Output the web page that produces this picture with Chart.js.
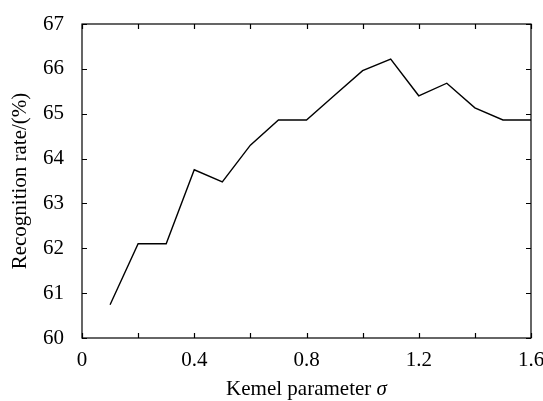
<!DOCTYPE html>
<html>
<head>
<meta charset="utf-8">
<script src="https://cdn.jsdelivr.net/npm/chart.js@4/dist/chart.umd.min.js"></script>
<style>
  html, body { margin: 0; padding: 0; background: #fff; }
  #wrap { width: 543px; height: 401px; }
</style>
</head>
<body>
<div id="wrap"><canvas id="c" width="543" height="401"></canvas></div>
<script>
// kernel parameter values and recognition rate
const sigma = [0.1, 0.2, 0.3, 0.4, 0.5, 0.6, 0.7, 0.8, 0.9, 1.0, 1.1, 1.2, 1.3, 1.4, 1.5, 1.6];
const rate = [60.74, 62.10, 62.10, 63.75, 63.48, 64.30, 64.86, 64.86, 65.41, 65.96, 66.22, 65.40, 65.68, 65.13, 64.86, 64.86];
const xLabels = ['0', '0.4', '0.8', '1.2', '1.6'];
const xTitle = 'Kemel parameter ';
const xTitleSym = 'σ';

const FONT = "'Liberation Serif', 'Times New Roman', serif";

// frame, inward tick marks on all four sides, x title with italic sigma
const framePlugin = {
  id: 'frame',
  afterDraw(chart) {
    const { ctx, chartArea: a, scales } = chart;
    ctx.save();
    ctx.strokeStyle = '#000';
    ctx.lineWidth = 1.2;
    ctx.strokeRect(a.left, a.top, a.right - a.left, a.bottom - a.top);
    const len = 5;
    ctx.beginPath();
    scales.x.ticks.forEach(t => {
      const px = Math.round(scales.x.getPixelForValue(t.value)) + 0.5;
      ctx.moveTo(px, a.bottom); ctx.lineTo(px, a.bottom - len);
      ctx.moveTo(px, a.top); ctx.lineTo(px, a.top + len);
    });
    scales.y.ticks.forEach(t => {
      const py = Math.round(scales.y.getPixelForValue(t.value)) + 0.5;
      ctx.moveTo(a.left, py); ctx.lineTo(a.left + len, py);
      ctx.moveTo(a.right, py); ctx.lineTo(a.right - len, py);
    });
    ctx.stroke();

    // x axis title
    ctx.fillStyle = '#000';
    ctx.textBaseline = 'alphabetic';
    const normal = '21px ' + FONT;
    const italic = 'italic 21px ' + FONT;
    ctx.font = normal;
    const w1 = ctx.measureText(xTitle).width;
    ctx.font = italic;
    const w2 = ctx.measureText(xTitleSym).width;
    const x0 = (a.left + a.right) / 2 - (w1 + w2) / 2;
    const yb = 395;
    ctx.font = normal;
    ctx.textAlign = 'left';
    ctx.fillText(xTitle, x0, yb);
    ctx.font = italic;
    ctx.fillText(xTitleSym, x0 + w1, yb);
    ctx.restore();
  }
};

new Chart(document.getElementById('c'), {
  type: 'line',
  data: {
    datasets: [{
      data: sigma.map((s, i) => ({ x: s, y: rate[i] })),
      borderColor: '#000',
      borderWidth: 1.4,
      pointRadius: 0,
      tension: 0,
      fill: false
    }]
  },
  options: {
    responsive: false,
    animation: false,
    layout: { padding: { top: 24, right: 0, left: 0, bottom: 0 } },
    plugins: { legend: { display: false }, tooltip: { enabled: false } },
    scales: {
      x: {
        type: 'linear',
        min: 0, max: 1.6,
        grid: { display: false },
        border: { display: false },
        ticks: {
          stepSize: 0.2,
          autoSkip: false,
          maxRotation: 0,
          padding: 2,
          color: '#000',
          font: { family: FONT, size: 21 },
          callback: v => {
            const k = Math.round(v * 10);
            return k % 4 === 0 ? xLabels[k / 4] : '';
          }
        },
        afterFit: s => { s.height = 63; s.paddingRight = 12; }
      },
      y: {
        min: 60, max: 67,
        grid: { display: false },
        border: { display: false },
        ticks: {
          stepSize: 1,
          padding: 10,
          color: '#000',
          font: { family: FONT, size: 21 }
        },
        title: {
          display: true,
          text: 'Recognition rate/(%)',
          color: '#000',
          font: { family: FONT, size: 21 },
          padding: { top: 8, bottom: 0 }
        },
        afterFit: s => { s.width = 82; }
      }
    }
  },
  plugins: [framePlugin]
});
</script>
</body>
</html>
